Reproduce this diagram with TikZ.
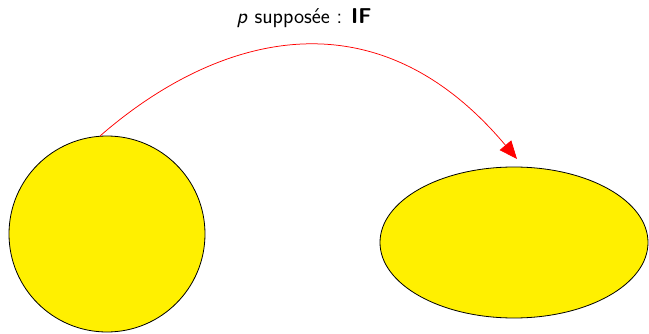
\documentclass[tikz,border=0pt]{standalone}
\usetikzlibrary{shapes.geometric,arrows.meta}
\definecolor{blobyellow}{RGB}{255,240,0}
\begin{document}
\begin{tikzpicture}[x=1pt,y=1pt,
  blob/.style={draw=black,line width=0.8pt,fill=blobyellow,inner sep=0pt},
  link/.style={draw=red,line width=0.75pt,-{Triangle[length=18pt,width=15pt]}},
  lab/.style={font=\fontsize{21.5}{25}\selectfont\sffamily}]
\useasboundingbox (0,0) rectangle (649,333);
\node[blob,circle,minimum size=196pt] (a) at (107,99) {};
\node[blob,ellipse,minimum width=268pt,minimum height=151pt] (b) at (514,90.5) {};
\coordinate (s) at (100,197);
\coordinate (t) at (517,174);
\draw[link] (s) .. controls (210,293) and (371,348) .. (t);
\node[lab] (l) at (304,315) {\textit{p} supposée : \textbf{IF}};
\end{tikzpicture}
\end{document}
